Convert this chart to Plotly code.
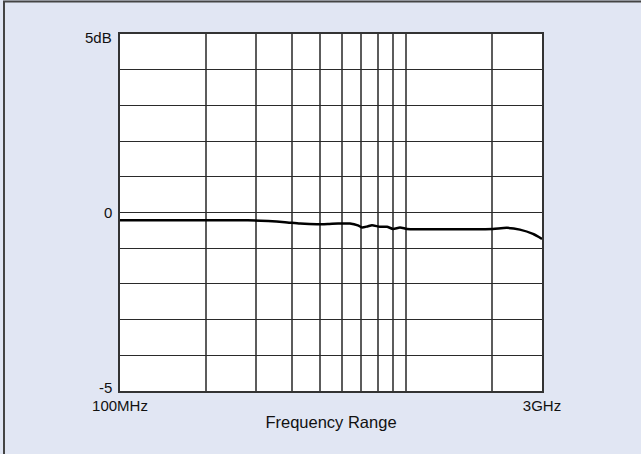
import plotly.graph_objects as go

freq_mhz = [100, 150, 200, 280, 330, 378, 427, 489, 540, 580, 638, 680, 703, 735, 762, 813, 860, 903, 955, 1010, 1100, 1400, 1700, 2020, 2260, 2510, 2790, 3000]
gain_db = [-0.22, -0.22, -0.22, -0.22, -0.24, -0.27, -0.31, -0.33, -0.32, -0.31, -0.31, -0.36, -0.42, -0.39, -0.36, -0.40, -0.40, -0.46, -0.42, -0.46, -0.47, -0.47, -0.47, -0.46, -0.43, -0.48, -0.60, -0.74]

x_tickvals = [100, 200, 300, 400, 500, 600, 700, 800, 900, 1000, 2000, 3000]
x_ticktext = ["100MHz", "", "", "", "", "", "", "", "", "", "", "3GHz"]
y_gridvals = [-5, -4, -3, -2, -1, 0, 1, 2, 3, 4, 5]
y_labelvals = [5, 0, -5]
y_labeltext = ["5dB", "0", "-5"]
y_labelshift = [-3, 0, 4]

W, H = 641, 454
L, R, T, B = 120, 99, 34, 63
pw, ph = W - L - R, H - T - B

fig = go.Figure()
fig.add_trace(go.Scatter(
    x=freq_mhz, y=gain_db, mode="lines",
    line=dict(color="#000000", width=2.5, shape="spline", smoothing=0.6),
    hoverinfo="skip", showlegend=False,
))

fig.update_layout(
    width=W, height=H,
    margin=dict(l=L, r=R, t=T, b=B, pad=0),
    paper_bgcolor="#E1E6F3",
    plot_bgcolor="#FFFFFF",
    font=dict(family="Liberation Sans, Arial, sans-serif", size=15, color="#111111"),
    xaxis=dict(
        type="log",
        range=[2, 3.4771213],
        tickvals=x_tickvals, ticktext=x_ticktext,
        showgrid=True, gridcolor="#5c5c5c", gridwidth=1.5,
        showline=True, linecolor="#333333", linewidth=1.5, mirror=True,
        ticks="", zeroline=False,
        title=dict(text="Frequency Range", font=dict(size=16.5), standoff=4),
        tickfont=dict(size=15),
    ),
    yaxis=dict(
        range=[-5, 5],
        tickvals=y_gridvals, ticktext=[""] * len(y_gridvals),
        showgrid=True, gridcolor="#2a2a2a", gridwidth=1,
        showline=True, linecolor="#333333", linewidth=1.5, mirror=True,
        ticks="", zeroline=False,
    ),
)

for v, t, s in zip(y_labelvals, y_labeltext, y_labelshift):
    fig.add_annotation(
        x=0, xref="paper", y=v, yref="y", text=t, showarrow=False,
        xanchor="right", yanchor="middle", xshift=-6, yshift=s,
        font=dict(size=15, color="#111111"),
    )

# outer frame around the whole picture
fig.add_shape(
    type="rect", xref="paper", yref="paper",
    x0=(4 - L) / pw, x1=(W + 6 - L) / pw,
    y0=-(H + 6 - T - ph) / ph, y1=1 + (T - 1.5) / ph,
    line=dict(color="#444444", width=2), fillcolor="rgba(0,0,0,0)", layer="above",
)

fig.write_html("out.html")
